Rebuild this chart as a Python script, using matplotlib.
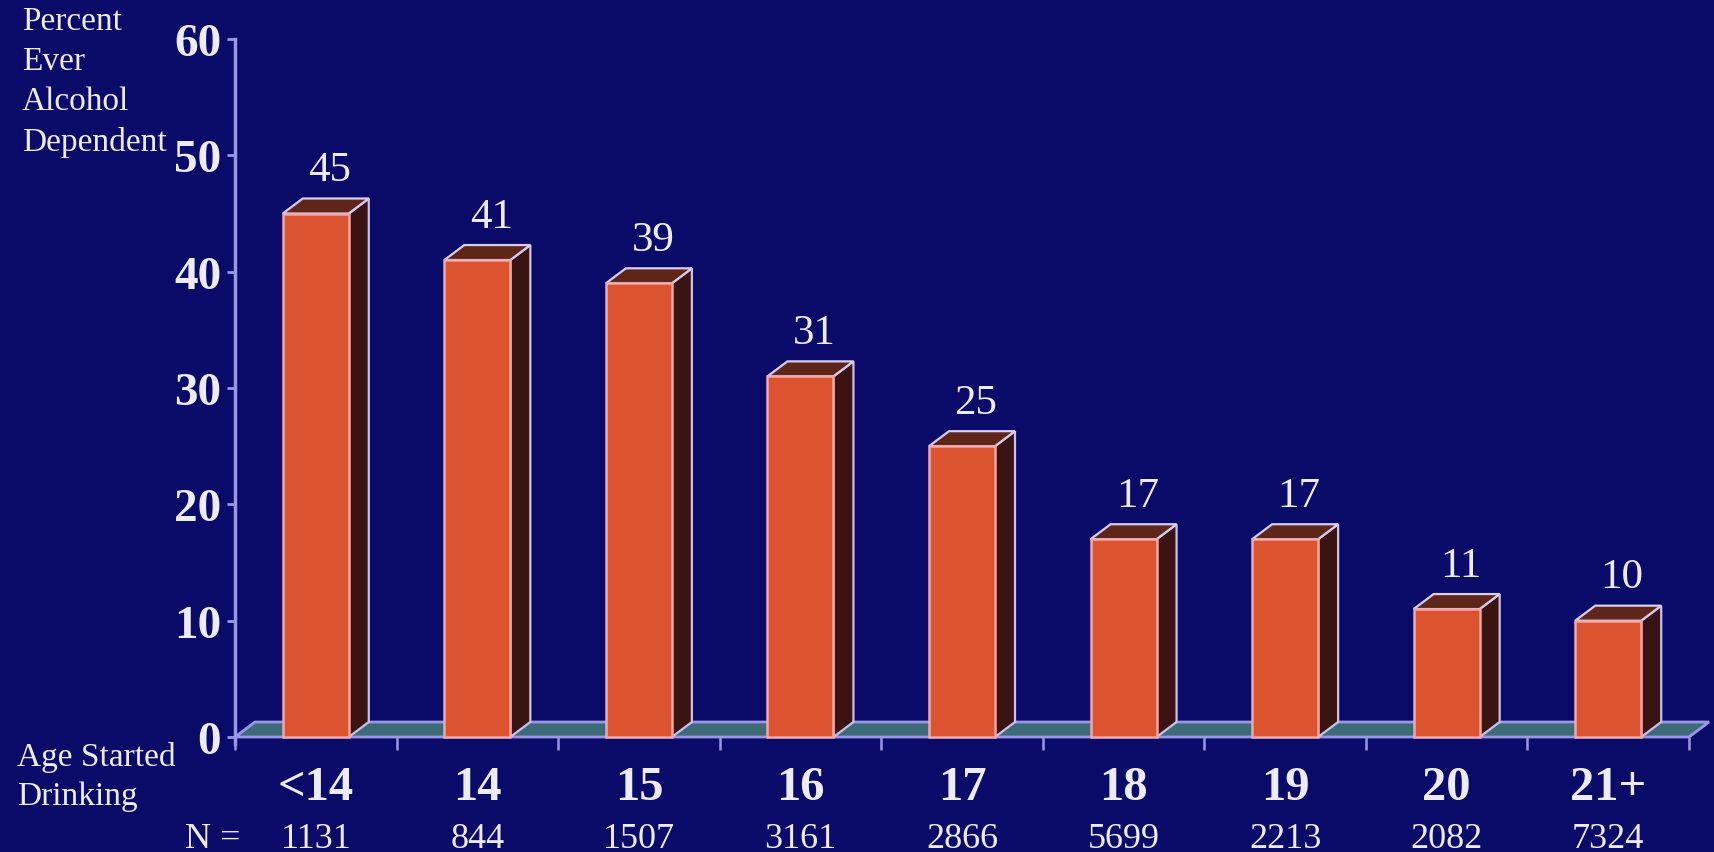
import matplotlib
matplotlib.use("Agg")
import matplotlib.pyplot as plt
from matplotlib.patches import Polygon, Rectangle

categories = ["<14", "14", "15", "16", "17", "18", "19", "20", "21+"]
percent_dependent = [45, 41, 39, 31, 25, 17, 17, 11, 10]
n_values = ["1131", "844", "1507", "3161", "2866", "5699", "2213", "2082", "7324"]
y_ticks = [0, 10, 20, 30, 40, 50, 60]

BG = "#0a0a68"
FRONT = "#dc532f"
SIDE = "#3a1412"
TOP = "#5e2618"
FLOOR = "#3e6b78"
LINE = "#9a96e8"
TXT = "#ecebff"
FONT = "Liberation Serif"

W, H = 1715, 853
fig = plt.figure(figsize=(W / 100, H / 100), dpi=100, facecolor=BG)

# axes: x from -0.5..8.5 -> px 235..1689 ; y 0..60 -> px 738..40
left, right = 235 / W, 1689 / W
bottom, top = (H - 738) / H, (H - 40) / H
ax = fig.add_axes([left, bottom, right - left, top - bottom])
ax.set_facecolor(BG)
n = len(categories)
ax.set_xlim(-0.5, n - 0.5)
ax.set_ylim(0, 60)

px_x = (1689 - 235) / n          # px per category
px_y = (738 - 40) / 60           # px per percent
hw = 33 / px_x                   # half width of front face
dx = 20 / px_x                   # depth offset x
dy = 15 / px_y                   # depth offset y

# floor
floor = Polygon([(-0.5, 0), (n - 0.5, 0), (n - 0.5 + dx, dy), (-0.5 + dx, dy)],
                closed=True, facecolor=FLOOR, edgecolor=LINE, lw=2, clip_on=False, zorder=1)
ax.add_patch(floor)

for i, v in enumerate(percent_dependent):
    side = Polygon([(i + hw, 0), (i + hw + dx, dy), (i + hw + dx, v + dy), (i + hw, v)],
                   closed=True, facecolor=SIDE, edgecolor="#c9c2ee", lw=1.6, clip_on=False, zorder=3)
    topf = Polygon([(i - hw, v), (i + hw, v), (i + hw + dx, v + dy), (i - hw + dx, v + dy)],
                   closed=True, facecolor=TOP, edgecolor="#d6cdf2", lw=1.6, clip_on=False, zorder=3)
    front = Rectangle((i - hw, 0), 2 * hw, v, facecolor=FRONT, edgecolor="#f2a8a8",
                      lw=1.8, clip_on=False, zorder=4)
    ax.add_patch(side)
    ax.add_patch(topf)
    ax.add_patch(front)
    ax.text(i + dx * 0.7, v + dy + 0.8, str(v), ha="center", va="bottom", color=TXT,
            fontsize=31, family=FONT, zorder=5)

# spines
for s in ["top", "right", "bottom"]:
    ax.spines[s].set_visible(False)
ax.spines["left"].set_color(LINE)
ax.spines["left"].set_linewidth(2.5)
ax.spines["left"].set_bounds(-0.6, 60)

ax.set_yticks(y_ticks)
ax.set_yticklabels([str(t) for t in y_ticks], fontsize=34, fontweight="bold",
                   family=FONT, color=TXT)
ax.tick_params(axis="y", direction="out", length=6, width=2, color=LINE, pad=4)

# x ticks: boundaries as small marks, categories as labels
ax.set_xticks([i - 0.5 for i in range(n + 1)], minor=True)
ax.set_xticks(range(n))
ax.set_xticklabels(categories, fontsize=35, fontweight="bold", family=FONT, color=TXT)
ax.tick_params(axis="x", which="major", length=0, pad=20)
ax.tick_params(axis="x", which="minor", direction="out", length=9, width=1.8, color=LINE)

# N values
for i, nv in enumerate(n_values):
    ax.annotate(nv, xy=(i, 0), xycoords="data", xytext=(0, -110),
                textcoords="offset pixels", ha="center", va="baseline",
                fontsize=26, family=FONT, color=TXT, annotation_clip=False)
fig.text(185 / W, 1 - 848 / H, "N =", ha="left", va="baseline", fontsize=26,
         family=FONT, color=TXT)

fig.text(22 / W, 1 - 6 / H, "Percent\nEver\nAlcohol\nDependent", ha="left", va="top",
         fontsize=24, family=FONT, color=TXT, linespacing=1.42)
fig.text(17 / W, 1 - 742 / H, "Age Started\nDrinking", ha="left", va="top",
         fontsize=24, family=FONT, color=TXT, linespacing=1.35)

fig.savefig("out.png", dpi=100, facecolor=BG)
